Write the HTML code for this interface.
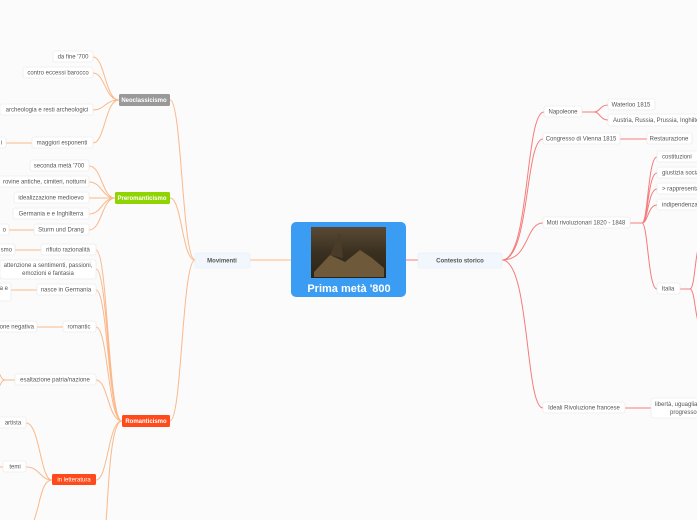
<!DOCTYPE html>
<html><head><meta charset="utf-8"><style>
html,body{margin:0;padding:0;background:#fbfbfb;width:697px;height:520px;overflow:hidden}
svg{display:block}
text{font-family:"Liberation Sans",sans-serif;font-size:6px;fill:#555}
.b{fill:#fff;stroke:#e6e6e6;stroke-width:.6}
.o{fill:none;stroke:#fbb88a;stroke-width:1}
.r{fill:none;stroke:#f47c7c;stroke-width:1}
</style></head><body>
<svg width="697" height="520" viewBox="0 0 697 520">
<defs><linearGradient id="sky" x1="0" y1="0" x2="0" y2="1"><stop offset="0" stop-color="#5a4a34"/><stop offset=".5" stop-color="#3a3020"/><stop offset="1" stop-color="#2a2418"/></linearGradient></defs>
<!-- left connectors -->
<path class="o" d="M291 260 H250"/>
<path class="o" d="M195 260 C182 260,182 100,170 100"/>
<path class="o" d="M195 260 C182 260,182 198,170 198"/>
<path class="o" d="M195 260 C182 260,182 421,170 421"/>
<path class="o" d="M119 100 C105 100,105 57,93 57 M119 100 C105 100,105 73,93 73 M119 100 C105 100,105 110,93 110 M119 100 C105 100,105 143,93 143 M32 143 H6"/>
<path class="o" d="M115 198 C102 198,102 166,89 166 M115 198 C102 198,102 182,89 182 M115 198 H89 M115 198 C102 198,102 214,89 214 M115 198 C102 198,102 230,89 230 M34 230 H9"/>
<path class="o" d="M122 421 C108 421,108 250,96 250 M122 421 C108 421,108 269,96 269 M122 421 C108 421,108 290,96 290 M122 421 C108 421,108 327,96 327 M122 421 C108 421,108 380,96 380 M122 421 C108 421,108 480,96 480 M122 421 C108 421,108 520,105 530"/>
<path class="o" d="M41 250 H15 M37 290 H11 M63 327 H37 M15 380 H5 M5 380 C0 380,0 370,-5 368 M5 380 C0 380,0 390,-5 392"/>
<path class="o" d="M52 480 C40 480,40 423,26 423 M52 480 C40 480,40 467,26 467 M52 480 C40 480,40 510,32 525 M3 467 H-5"/>
<!-- right connectors -->
<path class="r" d="M406 260 H418"/>
<path class="r" d="M502 260 C530 260,525 112,544 112 M502 260 C530 260,525 139,543 139 M502 260 C530 260,525 223,543 223 M502 260 C530 260,525 408,543 408"/>
<path class="r" d="M582 112 H594 C600 112,600 105,608 105 M594 112 C600 112,600 120,608 120"/>
<path class="r" d="M620 139 H647 M625 408 H651"/>
<path class="r" d="M630 223 H642 C648 223,648 157,657 157 M642 223 C648 223,648 173,657 173 M642 223 C648 223,648 189,657 189 M642 223 C648 223,648 205,657 205 M642 223 C648 223,648 289,657 289"/>
<path class="r" d="M680 289 H690 C695 289,695 250,700 245 M690 289 C695 289,695 320,700 325"/>
<!-- center -->
<rect x="291" y="222" width="115" height="75" rx="5" fill="#3a9cf2"/>
<rect x="311" y="227" width="75" height="51" fill="url(#sky)"/>
<path d="M314 272 L330 255 L345 262 L360 250 L372 258 L384 268 L384 277 L314 277Z" fill="#6e5a3a"/>
<path d="M330 255 L340 232 L343 258Z" fill="#4a3c28"/>
<text x="349" y="292" text-anchor="middle" style="font-size:11px;font-weight:bold;fill:#fff">Prima metà '800</text>
<!-- left nodes -->
<rect x="195" y="253" width="55" height="15" rx="2" fill="#f2f7fd" stroke="#e4ecf5" stroke-width=".6"/><text x="222" y="262.5" text-anchor="middle" style="font-weight:bold">Movimenti</text>
<rect x="119" y="94" width="51" height="12" rx="1.5" fill="#999"/><text x="144" y="102" text-anchor="middle" style="fill:#fff;font-weight:bold">Neoclassicismo</text>
<rect class="b" x="53" y="51" width="40" height="11" rx="2"/><text x="73" y="58.5" text-anchor="middle">da fine '700</text>
<rect class="b" x="23" y="67" width="70" height="11" rx="2"/><text x="58" y="74.5" text-anchor="middle">contro eccessi barocco</text>
<rect class="b" x="0" y="104" width="93" height="11" rx="2"/><text x="47" y="111.5" text-anchor="middle">archeologia e resti archeologici</text>
<rect class="b" x="32" y="137" width="61" height="11" rx="2"/><text x="62" y="144.5" text-anchor="middle">maggiori esponenti</text>
<rect class="b" x="-5" y="137" width="11" height="11" rx="2"/><text x="1" y="144.5">i</text>
<rect x="115" y="192" width="55" height="12" rx="1.5" fill="#8fd400"/><text x="142" y="200" text-anchor="middle" style="fill:#fff;font-weight:bold">Preromanticismo</text>
<rect class="b" x="30" y="160" width="59" height="11" rx="2"/><text x="59" y="167.5" text-anchor="middle">seconda metà '700</text>
<rect class="b" x="-5" y="176" width="94" height="11" rx="2"/><text x="86" y="183.5" text-anchor="end">rovine antiche, cimiteri, notturni</text>
<rect class="b" x="14" y="192" width="75" height="11" rx="2"/><text x="51" y="199.5" text-anchor="middle">idealizzazione medioevo</text>
<rect class="b" x="13" y="208" width="76" height="11" rx="2"/><text x="51" y="215.5" text-anchor="middle">Germania e e Inghilterra</text>
<rect class="b" x="34" y="224" width="55" height="11" rx="2"/><text x="61" y="231.5" text-anchor="middle">Sturm und Drang</text>
<rect class="b" x="-5" y="224" width="14" height="11" rx="2"/><text x="6" y="231.5" text-anchor="end">o</text>
<rect x="122" y="415" width="48" height="12" rx="1.5" fill="#ff4a1c"/><text x="146" y="423" text-anchor="middle" style="fill:#fff;font-weight:bold">Romanticismo</text>
<rect class="b" x="41" y="244" width="55" height="11" rx="2"/><text x="68" y="251.5" text-anchor="middle">rifiuto razionalità</text>
<rect class="b" x="-5" y="244" width="20" height="11" rx="2"/><text x="12" y="251.5" text-anchor="end">smo</text>
<rect class="b" x="0" y="260" width="96" height="19" rx="2"/><text x="48" y="267" text-anchor="middle">attenzione a sentimenti, passioni,</text><text x="48" y="275" text-anchor="middle">emozioni e fantasia</text>
<rect class="b" x="37" y="284" width="59" height="11" rx="2"/><text x="66" y="291.5" text-anchor="middle">nasce in Germania</text>
<rect class="b" x="-5" y="283" width="16" height="18" rx="2"/><text x="8" y="290" text-anchor="end">a e</text>
<rect class="b" x="63" y="321" width="33" height="11" rx="2"/><text x="79" y="328.5" text-anchor="middle">romantic</text>
<rect class="b" x="-5" y="321" width="42" height="11" rx="2"/><text x="34" y="328.5" text-anchor="end">one negativa</text>
<rect class="b" x="15" y="374" width="81" height="11" rx="2"/><text x="55" y="381.5" text-anchor="middle">esaltazione patria/nazione</text>
<rect x="52" y="474" width="44" height="11" rx="1.5" fill="#ff4a1c"/><text x="74" y="481.5" text-anchor="middle" style="fill:#fff">in letteratura</text>
<rect class="b" x="-5" y="417" width="31" height="11" rx="2"/><text x="13" y="424.5" text-anchor="middle">artista</text>
<rect class="b" x="3" y="461" width="23" height="11" rx="2"/><text x="15" y="468.5" text-anchor="middle">temi</text>
<!-- right nodes -->
<rect x="418" y="253" width="84" height="15" rx="2" fill="#f2f7fd" stroke="#e4ecf5" stroke-width=".6"/><text x="460" y="262.5" text-anchor="middle" style="font-weight:bold">Contesto storico</text>
<rect class="b" x="544" y="106" width="38" height="11" rx="2"/><text x="563" y="113.5" text-anchor="middle">Napoleone</text>
<rect class="b" x="608" y="99" width="47" height="11" rx="2"/><text x="631" y="106.5" text-anchor="middle">Waterloo 1815</text>
<rect class="b" x="608" y="114" width="95" height="12" rx="2"/><text x="613" y="122">Austria, Russia, Prussia, Inghilterra</text>
<rect class="b" x="543" y="133" width="77" height="11" rx="2"/><text x="581" y="140.5" text-anchor="middle">Congresso di Vienna 1815</text>
<rect class="b" x="647" y="133" width="45" height="11" rx="2"/><text x="669" y="140.5" text-anchor="middle">Restaurazione</text>
<rect class="b" x="543" y="217" width="87" height="11" rx="2"/><text x="586" y="224.5" text-anchor="middle">Moti rivoluzionari 1820 - 1848</text>
<rect class="b" x="657" y="151" width="45" height="11" rx="2"/><text x="662" y="158.5">costituzioni</text>
<rect class="b" x="657" y="167" width="45" height="11" rx="2"/><text x="662" y="174.5">giustizia sociale</text>
<rect class="b" x="657" y="183" width="45" height="11" rx="2"/><text x="662" y="190.5">&gt; rappresentanza</text>
<rect class="b" x="657" y="199" width="45" height="11" rx="2"/><text x="662" y="206.5">indipendenza</text>
<rect class="b" x="657" y="283" width="23" height="11" rx="2"/><text x="668" y="290.5" text-anchor="middle">Italia</text>
<rect class="b" x="543" y="402" width="82" height="11" rx="2"/><text x="584" y="409.5" text-anchor="middle">Ideali Rivoluzione francese</text>
<rect class="b" x="651" y="398" width="60" height="20" rx="2"/><text x="655" y="406">libertà, uguaglianza,</text><text x="670" y="414">progresso</text>
</svg>
</body></html>
